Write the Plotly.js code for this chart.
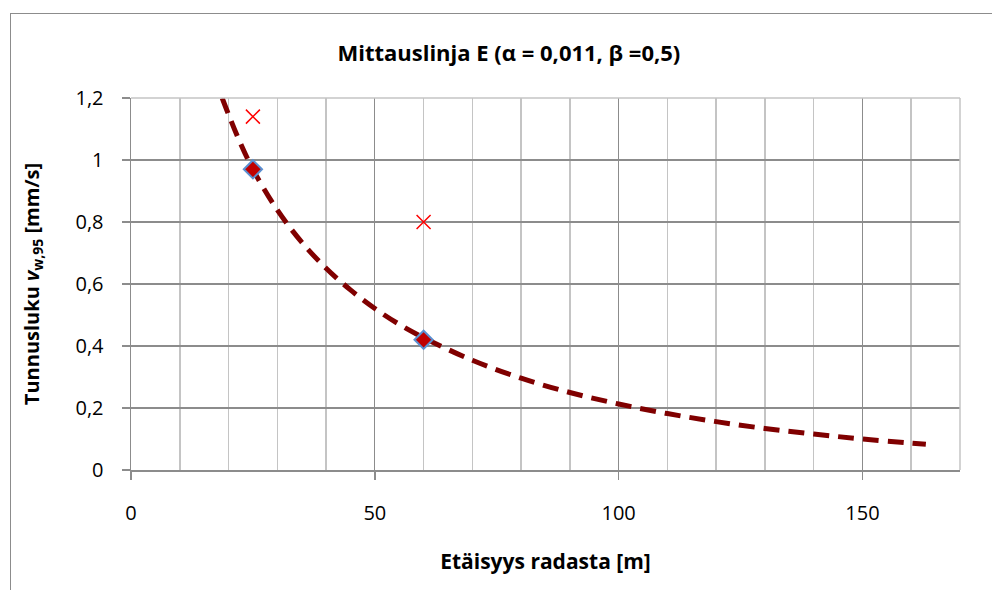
<!DOCTYPE html>
<html>
<head>
<meta charset="utf-8">
<script src="https://cdn.plot.ly/plotly-3.0.1.min.js"></script>
<style>
  html, body { margin: 0; padding: 0; background: #ffffff; }
  #frame { position: absolute; left: 10px; top: 13px; width: 1000px; height: 600px; border: 1px solid #8c8c8c; box-sizing: border-box; }
  #chart { position: absolute; left: 0; top: 0; width: 992px; height: 590px; }
</style>
</head>
<body>
<div id="frame"></div>
<div id="chart"></div>
<script>
// Fitted curve
var curveX = [18.7, 20, 22, 25, 30, 35, 40, 45, 50, 55, 60, 70, 80, 90, 100, 110, 120, 130, 140, 150, 163];
var curveY = [1.20, 1.147, 1.070, 0.970, 0.839, 0.735, 0.651, 0.581, 0.521, 0.470, 0.427, 0.354, 0.296, 0.250, 0.213, 0.182, 0.156, 0.134, 0.116, 0.100, 0.083];

// Measured points on the curve (diamonds)
var fitX = [25, 60];
var fitY = [0.97, 0.42];

// Measured points (crosses)
var measX = [25, 60];
var measY = [1.14, 0.80];

var chartTitle = 'Mittauslinja E (α = 0,011, β =0,5)';
var xTitle = 'Etäisyys radasta [m]';
var yTitle = 'Tunnusluku <i>v</i><sub>w,95</sub> [mm/s]';

var font = 'Open Sans, Noto Sans, sans-serif';

var traces = [
  {
    x: curveX, y: curveY, type: 'scatter', mode: 'lines',
    line: { color: '#800000', width: 5, dash: '16px,9px', shape: 'spline' },
    hoverinfo: 'skip', showlegend: false
  },
  {
    x: fitX, y: fitY, type: 'scatter', mode: 'markers',
    marker: { symbol: 'diamond', size: 14, color: '#c00000', line: { color: '#5b8fd0', width: 2 } },
    showlegend: false
  },
  {
    x: measX, y: measY, type: 'scatter', mode: 'markers',
    marker: { symbol: 'x-thin', size: 14, color: '#ff0000', line: { color: '#ff0000', width: 1.5 } },
    showlegend: false
  }
];

var layout = {
  width: 992, height: 590,
  paper_bgcolor: 'rgba(0,0,0,0)', plot_bgcolor: '#ffffff',
  separators: ',.',
  margin: { l: 131, r: 32, t: 98, b: 120 },
  font: { family: font, color: '#000000', size: 18 },
  title: {
    text: '<b>' + chartTitle + '</b>',
    font: { family: font, size: 22, color: '#000000' },
    xref: 'container', yref: 'container', x: 0.513, y: 0.91, xanchor: 'center', yanchor: 'middle'
  },
  xaxis: {
    range: [0, 170], dtick: 50, tick0: 0,
    showgrid: true, gridcolor: '#8c8c8c', gridwidth: 1,
    minor: { dtick: 10, tick0: 0, showgrid: true, gridcolor: '#c4c4c4', gridwidth: 1.5, ticks: '' },
    zeroline: false, showline: true, linecolor: '#8c8c8c', linewidth: 1.5,
    ticks: 'outside', ticklen: 8, tickcolor: '#8c8c8c', tickwidth: 1.5,
    ticklabelstandoff: 16,
    tickfont: { family: font, size: 20, color: '#000000' },
    title: { text: '<b>' + xTitle + '</b>', font: { family: font, size: 21, color: '#000000' }, standoff: 30 },
    mirror: false, fixedrange: true
  },
  yaxis: {
    range: [0, 1.2], dtick: 0.2, tick0: 0,
    showgrid: true, gridcolor: '#8c8c8c', gridwidth: 1.5,
    zeroline: false, showline: true, linecolor: '#8c8c8c', linewidth: 1.5,
    ticks: 'outside', ticklen: 8, tickcolor: '#8c8c8c', tickwidth: 1.5,
    ticklabelstandoff: 14,
    tickfont: { family: font, size: 20, color: '#000000' },
    title: { text: '<b>' + yTitle + '</b>', font: { family: font, size: 20, color: '#000000' }, standoff: 30 },
    fixedrange: true
  },
  shapes: [
    { type: 'line', xref: 'paper', yref: 'paper', x0: 0, x1: 1, y0: 1, y1: 1, line: { color: '#c4c4c4', width: 1.5 } },
    { type: 'line', xref: 'paper', yref: 'paper', x0: 1, x1: 1, y0: 0, y1: 1, line: { color: '#c4c4c4', width: 1.5 } }
  ]
};

Plotly.newPlot('chart', traces, layout, { displayModeBar: false, staticPlot: true });
</script>
</body>
</html>
